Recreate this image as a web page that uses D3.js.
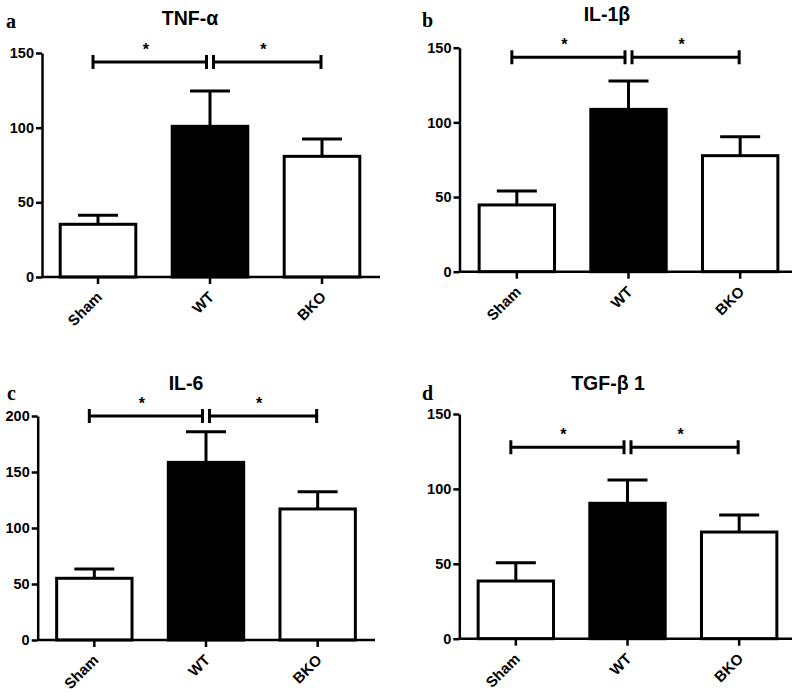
<!DOCTYPE html>
<html>
<head>
<meta charset="utf-8">
<script src="https://cdn.jsdelivr.net/npm/d3@7"></script>
<style>
  html, body { margin: 0; padding: 0; background: #fff; }
  svg { display: block; }
</style>
</head>
<body>
<svg id="chart" width="797" height="694"></svg>
<script>
// ---------------- DATA ----------------
const categories = ["Sham", "WT", "BKO"];
const panelLetters = ["a", "b", "c", "d"];
const panelTitles = ["TNF-α", "IL-1β", "IL-6", "TGF-β 1"];

const tnfMean  = [35.3, 100.9, 80.8];
const tnfSem   = [6.0, 23.7, 11.6];
const il1bMean = [44.7, 108.7, 77.7];
const il1bSem  = [9.3, 19.0, 12.7];
const il6Mean  = [55.1, 158.6, 117.0];
const il6Sem   = [8.3, 27.4, 15.4];
const tgfMean  = [38.5, 90.4, 71.2];
const tgfSem   = [12.2, 15.5, 11.4];

const yTicks150 = [0, 50, 100, 150];
const yTicks200 = [0, 50, 100, 150, 200];
const yMaxes = [150, 150, 200, 150];
const sigLevels = [144, 143.6, 200, 127.8];
const sigLabels = ["*", "*"];

const means = [tnfMean, il1bMean, il6Mean, tgfMean];
const sems = [tnfSem, il1bSem, il6Sem, tgfSem];
const tickSets = [yTicks150, yTicks150, yTicks200, yTicks150];

// ---------------- LAYOUT ----------------
const layouts = [
  {axisX: 42,    x0: 42,   x1: 378, axisEnd: 380, yBottom: 277,   yTop: 53,    titleX: 190, titleY: 25,  letterX: 6,   letterY: 28},
  {axisX: 459.5, x0: 461,  x1: 796, axisEnd: 792, yBottom: 271.7, yTop: 47.7,  titleX: 607, titleY: 21,  letterX: 422, letterY: 27},
  {axisX: 37.7,  x0: 38.5, x1: 373.5, axisEnd: 375, yBottom: 640, yTop: 416,   titleX: 186, titleY: 390, letterX: 7,   letterY: 400},
  {axisX: 459.3, x0: 460,  x1: 795, axisEnd: 792, yBottom: 638.7, yTop: 414,   titleX: 608, titleY: 390, letterX: 422, letterY: 400}
];

const svg = d3.select("#chart");
const SANS = "'Liberation Sans', Arial, sans-serif";
const SERIF = "'Liberation Serif', 'Times New Roman', serif";
const LW = 3;

layouts.forEach((L, i) => {
  const g = svg.append("g");
  const x = d3.scaleBand().domain(categories).range([L.x0, L.x1])
    .paddingInner(0.325).paddingOuter(0.1625);
  const y = d3.scaleLinear().domain([0, yMaxes[i]]).range([L.yBottom, L.yTop]);
  const rows = categories.map((c, k) => ({cat: c, mean: means[i][k], sem: sems[i][k]}));

  // bars
  g.selectAll("rect.bar").data(rows).join("rect")
    .attr("class", "bar")
    .attr("x", d => x(d.cat))
    .attr("width", x.bandwidth())
    .attr("y", d => y(d.mean))
    .attr("height", d => y(0) - y(d.mean))
    .attr("fill", d => d.cat === "WT" ? "#000" : "#fff")
    .attr("stroke", "#000")
    .attr("stroke-width", LW);

  // error bars (upper)
  const cx = d => x(d.cat) + x.bandwidth() / 2;
  g.selectAll("line.err").data(rows).join("line")
    .attr("class", "err")
    .attr("x1", cx).attr("x2", cx)
    .attr("y1", d => y(d.mean)).attr("y2", d => y(d.mean + d.sem))
    .attr("stroke", "#000").attr("stroke-width", LW);
  g.selectAll("line.cap").data(rows).join("line")
    .attr("class", "cap")
    .attr("x1", d => cx(d) - 20).attr("x2", d => cx(d) + 20)
    .attr("y1", d => y(d.mean + d.sem)).attr("y2", d => y(d.mean + d.sem))
    .attr("stroke", "#000").attr("stroke-width", LW);

  // y axis
  const ya = g.append("g")
    .attr("transform", `translate(${L.axisX},0)`)
    .call(d3.axisLeft(y).tickValues(tickSets[i]).tickSize(6).tickSizeOuter(0).tickPadding(2));
  ya.select(".domain").attr("stroke", "#000").attr("stroke-width", 2.5);
  ya.selectAll(".tick line").attr("stroke", "#000").attr("stroke-width", 2.5);
  ya.selectAll(".tick text")
    .attr("fill", "#000")
    .style("font-family", SANS).style("font-weight", "bold").style("font-size", "14.5px");

  // x axis
  const xa = g.append("g")
    .attr("transform", `translate(0,${L.yBottom})`)
    .call(d3.axisBottom(x).tickSize(7).tickSizeOuter(0));
  xa.select(".domain").remove();
  xa.selectAll(".tick line").attr("stroke", "#000").attr("stroke-width", 2.5);
  xa.selectAll(".tick text")
    .attr("x", 0).attr("y", 0).attr("dy", null)
    .attr("transform", "translate(5,21) rotate(-45)")
    .attr("text-anchor", "end")
    .attr("fill", "#000")
    .style("font-family", SANS).style("font-weight", "bold").style("font-size", "15px");
  g.append("line")
    .attr("x1", L.axisX).attr("x2", L.axisEnd)
    .attr("y1", L.yBottom).attr("y2", L.yBottom)
    .attr("stroke", "#000").attr("stroke-width", 2.5);

  // significance brackets
  const cS = x("Sham") + x.bandwidth() / 2;
  const cW = x("WT") + x.bandwidth() / 2;
  const cB = x("BKO") + x.bandwidth() / 2;
  const sy = y(sigLevels[i]);
  const brackets = [[cS - 5, cW - 3.5], [cW + 3.5, cB - 1]];
  brackets.forEach((b, k) => {
    g.append("line").attr("x1", b[0]).attr("x2", b[1]).attr("y1", sy).attr("y2", sy)
      .attr("stroke", "#000").attr("stroke-width", LW);
    b.forEach(xx => g.append("line").attr("x1", xx).attr("x2", xx)
      .attr("y1", sy - 7).attr("y2", sy + 7)
      .attr("stroke", "#000").attr("stroke-width", LW));
    g.append("text")
      .attr("x", (b[0] + b[1]) / 2 - 4).attr("y", sy - 7)
      .attr("text-anchor", "middle")
      .style("font-family", SANS).style("font-weight", "bold").style("font-size", "16px")
      .text(sigLabels[k]);
  });

  // title and letter
  g.append("text")
    .attr("x", L.titleX).attr("y", L.titleY)
    .attr("text-anchor", "middle")
    .style("font-family", SANS).style("font-weight", "bold").style("font-size", "19.5px")
    .text(panelTitles[i]);
  g.append("text")
    .attr("x", L.letterX).attr("y", L.letterY)
    .style("font-family", SERIF).style("font-weight", "bold").style("font-size", "20px")
    .text(panelLetters[i]);
});
</script>
</body>
</html>
